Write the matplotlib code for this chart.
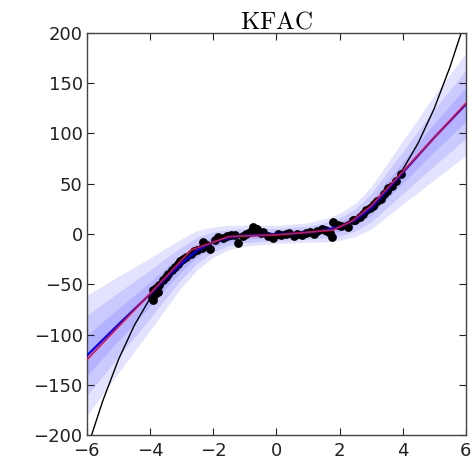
import numpy as np
import matplotlib
matplotlib.use("Agg")
import matplotlib.pyplot as plt

plt.rcParams['font.family'] = ['DejaVu Sans']
plt.rcParams['mathtext.fontset'] = 'cm'

true_x = [-6, -5.85, -5.5, -5.0, -4.5, -4.0, -3.5, -3.0, -2.5, -2.0, -1.5, -1.0, -0.5, 0.0,
          0.5, 1.0, 1.5, 2.0, 2.5, 3.0, 3.5, 4.0, 4.5, 5.0, 5.5, 5.85, 6.0]
true_y = [-216, -200, -166.4, -125, -91.1, -64, -42.9, -27, -15.6, -8, -3.4, -1, -0.1, 0,
          0.1, 1, 3.4, 8, 15.6, 27, 42.9, 64, 91.1, 125, 166.4, 200, 216]

# predictive mean (red, piecewise linear)
mean_x = [-6, -4.2, -2.7, -1.5, 0.0, 1.8, 2.4, 3.0, 6]
mean_y = [-125, -66, -16, -2.5, -1, 4, 13, 28, 130]

# band centre and spread
band_x = [-6, -5, -4, -3.5, -3, -2.5, -2, -1.5, -1, 0, 1, 1.5, 2, 2.5, 3, 4, 5, 6]
band_c = [-121, -90, -60, -44, -29, -16, -8, -3.5, -1.5, -0.5, 1.5, 3.5, 7, 14, 26, 61, 96, 129]
band_s = [20, 16, 12, 10, 8, 6.5, 5, 4, 3.5, 3, 3.2, 3.8, 4.5, 5.5, 7, 10.5, 14, 17]

# observations
points = [(-3.95, -63), (-3.92, -66), (-3.9, -56), (-3.85, -60), (-3.8, -54), (-3.75, -58),
          (-3.72, -51), (-3.6, -46), (-3.5, -43), (-3.42, -40), (-3.3, -36), (-3.2, -33),
          (-3.12, -30), (-3.05, -27), (-2.95, -25), (-2.85, -23), (-2.7, -20), (-2.6, -17),
          (-2.5, -16), (-2.35, -14), (-2.32, -8), (-2.2, -11), (-2.1, -15), (-1.95, -6),
          (-1.85, -3), (-1.7, -4), (-1.55, -2), (-1.45, -1), (-1.3, -1), (-1.2, -9),
          (-1.05, -2), (-0.95, 0), (-0.85, 2), (-0.75, 7), (-0.7, 4), (-0.6, 5), (-0.5, 1),
          (-0.42, 2), (-0.25, -2), (-0.1, -4), (0.05, 0), (0.15, -1), (0.3, 0), (0.4, 1),
          (0.55, -2), (0.65, 0), (0.8, -1), (0.95, 1), (1.05, 2), (1.2, 0), (1.3, 3),
          (1.45, 5), (1.55, 4), (1.6, 3), (1.7, 1), (1.75, -3), (1.8, 12), (1.95, 9),
          (2.05, 8), (2.27, 7), (2.42, 14), (2.5, 14), (2.65, 17), (2.75, 20), (2.85, 24),
          (2.95, 26), (3.05, 28), (3.1, 30), (3.2, 33), (3.3, 35), (3.4, 40), (3.5, 43),
          (3.55, 46), (3.65, 48), (3.8, 53), (3.95, 60)]
data_x = [p[0] for p in points]
data_y = [p[1] for p in points]

x_ticks = [-6, -4, -2, 0, 2, 4, 6]
y_ticks = [-200, -150, -100, -50, 0, 50, 100, 150, 200]

fig = plt.figure(figsize=(4.72, 4.62), dpi=100)
ax = fig.add_axes([0.184, 0.0584, 0.803, 0.8702])

bx = np.array(band_x)
bc = np.array(band_c)
bs = np.array(band_s)
for k in (3, 2, 1):
    ax.fill_between(bx, bc - k * bs, bc + k * bs, color='#0000ff', alpha=0.11, lw=0)

ax.plot(true_x, true_y, color='black', lw=1.0)
ax.scatter(data_x, data_y, s=28, color='black', zorder=3)
ax.plot(bx, bc, color='blue', lw=1.6, zorder=4)
ax.plot(mean_x, mean_y, color='#e0103a', lw=1.2, zorder=5)

ax.set_xlim(-6, 6)
ax.set_ylim(-200, 200)
ax.set_xticks(x_ticks)
ax.set_yticks(y_ticks)
ax.set_xticklabels([str(t).replace('-', '\u2212') for t in x_ticks])
ax.set_yticklabels([str(t).replace('-', '\u2212') for t in y_ticks])
ax.tick_params(direction='in', length=5, width=0.8, top=True, right=True,
               labelsize=13, pad=3, colors='#222222')
ax.tick_params(axis='x', pad=5)
for sp in ax.spines.values():
    sp.set_color('#444444')
    sp.set_linewidth(1.0)
ax.set_title(r'$\mathrm{KFAC}$', fontsize=18, pad=3)

fig.savefig('out.png', dpi=100)
